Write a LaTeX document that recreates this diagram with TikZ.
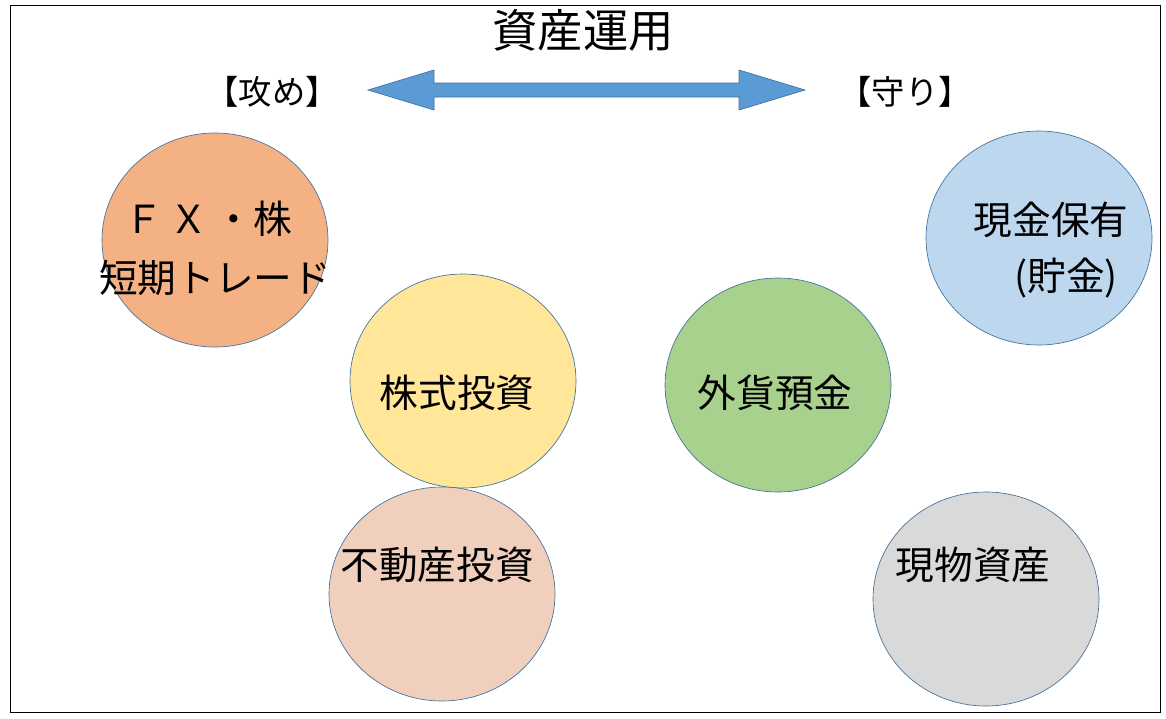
\documentclass[tikz,border=0pt]{standalone}
\usepackage{fontspec}
\setmainfont{Noto Sans CJK JP}
\usetikzlibrary{calc,positioning}
\definecolor{edgeblue}{HTML}{41719C}
\definecolor{arrowblue}{HTML}{5B9BD5}
\definecolor{fxorange}{HTML}{F4B183}
\definecolor{stockyellow}{HTML}{FFE699}
\definecolor{estatepink}{HTML}{F0CFBD}
\definecolor{fxgreen}{HTML}{A9D18E}
\definecolor{cashblue}{HTML}{BDD7EE}
\definecolor{goodsgray}{HTML}{D9D9D9}
\tikzset{
  asset/.style = {draw=edgeblue, line width=0.5pt},
  label/.style = {font=\fontsize{29pt}{36pt}\selectfont, align=center, inner sep=0pt},
  side/.style  = {font=\fontsize{25pt}{30pt}\selectfont, inner sep=0pt},
}
\begin{document}
\begin{tikzpicture}[x=0.75pt, y=-0.75pt]
  \useasboundingbox (0,0) rectangle (1166,718);
  \draw[line width=0.6pt] (10,5) rectangle (1160,712);
  % title and arrow
  \node[font=\fontsize{34pt}{40pt}\selectfont, inner sep=0pt] (title) at (583,30) {資産運用};
  \node[side] (attack) at (272,92) {【攻め】};
  \node[side] (defend) at (905,92) {【守り】};
  \coordinate (arrowL) at (368,90);
  \coordinate (arrowR) at (805,90);
  \draw[edgeblue, fill=arrowblue, line width=0.5pt]
    (arrowL) -- ++(66,-20) -- ++(0,13) -- ($(arrowR)+(-66,-7)$) -- ++(0,-13) -- (arrowR)
    -- ++(-66,20) -- ++(0,-13) -- ($(arrowL)+(66,7)$) -- ++(0,13) -- cycle;
  % assets
  \draw[asset, fill=fxorange]    (215,240) ellipse [x radius=113, y radius=107];
  \draw[asset, fill=stockyellow] (463,381) ellipse [x radius=113, y radius=107];
  \draw[asset, fill=estatepink]  (442,594) ellipse [x radius=113, y radius=107];
  \draw[asset, fill=fxgreen]     (778,385) ellipse [x radius=113, y radius=107];
  \draw[asset, fill=cashblue]    (1039,238) ellipse [x radius=113, y radius=107];
  \draw[asset, fill=goodsgray]   (986,599) ellipse [x radius=113, y radius=107];
  \node[label] (fx) at (208,219) {Ｆ\,Ｘ\,・株};
  \node[label] (trade) at (215,278) {短期トレード};
  \node[label] (stock) at (457,393) {株式投資};
  \node[label] (estate) at (437,565) {不動産投資};
  \node[label] (deposit) at (775,393) {外貨預金};
  \node[label] (cash) at (1051,220) {現金保有};
  \node[label] (saving) at (1066,278) {(貯金)};
  \node[label] (goods) at (973,565) {現物資産};
\end{tikzpicture}
\end{document}
